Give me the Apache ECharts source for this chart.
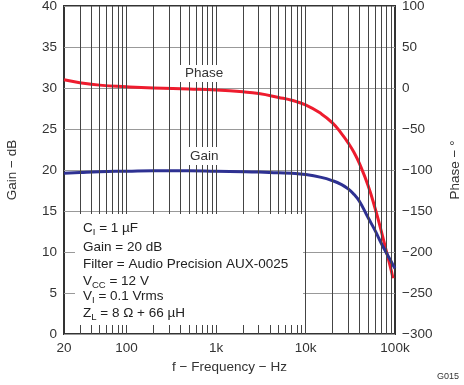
<!DOCTYPE html>
<html><head><meta charset="utf-8">
<script src="https://cdn.jsdelivr.net/npm/echarts@6/dist/echarts.min.js"></script>
<style>html,body{margin:0;padding:0;background:#fff}#c{width:464px;height:385px}</style>
</head><body><div id="c"></div>
<script>
var freq  = [20,30,50,100,200,500,1000,2000,3000,5000,7000,10000,15000,20000,25000,30000,35000,40000,50000,60000,70000,80000,90000,95000,100000];
var gain  = [19.6,19.7,19.8,19.85,19.9,19.9,19.85,19.8,19.75,19.65,19.6,19.45,19.1,18.7,18.25,17.7,17.0,16.2,14.2,12.6,11.1,9.9,8.9,8.4,8.0];
var phase = [10,6.5,3.5,1.5,0,-1.3,-2.5,-4.7,-6.8,-11.5,-15,-20.5,-31.5,-42.5,-55,-67,-79,-92,-119,-147,-174,-199,-221,-232,null];
var gridFreqs = [30,40,50,60,70,80,90,100,200,300,400,500,600,700,800,900,1000,2000,3000,4000,5000,6000,7000,8000,9000,10000,20000,30000,40000,50000,60000,70000,80000,90000];
var gainTicks = {min:0, max:40, interval:5};
var phaseTicks = {min:-300, max:100, interval:50};

var FONT = '"Liberation Sans", Arial, sans-serif';
var TXT = '#333';
var chart = echarts.init(document.getElementById('c'));
function fmtF(v){ return v >= 1000 ? (v/1000) + 'k' : String(v); }
function fmtMinus(v){ return String(v).replace('-', '\u2212'); }
var base = {fontFamily: FONT, fontSize: 13.5, color: '#222', lineHeight: 17};
var sub = {fontFamily: FONT, fontSize: 9.5, color: '#222', lineHeight: 12, padding: [8,0,0,0]};
function line(y, t){
  return {type:'text', left:83, top:y, z:101, style:{text:t, rich:{a:base, s:sub}, font: '13.5px ' + FONT, fill:'#222'}};
}
function pairs(ys){ return freq.map(function(f,i){ return [f, ys[i]]; }).filter(function(p){ return p[1] !== null; }); }
chart.setOption({
  animation: false,
  grid: {left:64, right:69, top:6, bottom:51, containLabel:false, outerBoundsMode:'none', show:true, borderColor:'#333', borderWidth:2, backgroundColor:'transparent'},
  xAxis: {
    type:'log', logBase:10, min:20, max:100000,
    name:'f \u2212 Frequency \u2212 Hz', nameLocation:'middle', nameGap:22,
    nameTextStyle:{fontFamily:FONT, fontSize:13.5, color:TXT},
    axisLine:{show:false}, axisTick:{show:false}, splitLine:{show:false},
    axisLabel:{formatter:fmtF, fontFamily:FONT, fontSize:13.5, color:TXT, margin:7}
  },
  yAxis: [{
    type:'value', min:gainTicks.min, max:gainTicks.max, interval:gainTicks.interval,
    name:'Gain \u2212 dB', nameLocation:'middle', nameRotate:90, nameGap:45,
    nameTextStyle:{fontFamily:FONT, fontSize:13.5, color:TXT},
    axisLine:{show:false}, axisTick:{show:false},
    splitLine:{show:true, lineStyle:{color:'#999', width:1}},
    axisLabel:{fontFamily:FONT, fontSize:13.5, color:TXT, margin:7}
  },{
    type:'value', min:phaseTicks.min, max:phaseTicks.max, interval:phaseTicks.interval, position:'right',
    name:'Phase \u2212 \u00b0', nameLocation:'middle', nameRotate:90, nameGap:53,
    nameTextStyle:{fontFamily:FONT, fontSize:13.5, color:TXT},
    axisLine:{show:false}, axisTick:{show:false}, splitLine:{show:false},
    axisLabel:{formatter:fmtMinus, fontFamily:FONT, fontSize:13.5, color:TXT, margin:7}
  }],
  series: [{
    type:'line', yAxisIndex:0, data:[], silent:true, z:1,
    markLine:{silent:true, symbol:['none','none'], label:{show:false}, animation:false,
      lineStyle:{color:'#444', width:1, type:'solid'},
      data: gridFreqs.map(function(f){return {xAxis:f};})}
  },{
    name:'Phase', type:'line', yAxisIndex:1, smooth:0.5, showSymbol:false, z:3,
    lineStyle:{color:'#ee1c2e', width:3}, itemStyle:{color:'#ee1c2e'},
    data: pairs(phase)
  },{
    name:'Gain', type:'line', yAxisIndex:0, smooth:0.5, showSymbol:false, z:3,
    lineStyle:{color:'#2e3192', width:3}, itemStyle:{color:'#2e3192'},
    data: pairs(gain)
  }],
  graphic: [
    {type:'rect', left:75, top:214, z:100, shape:{width:228, height:111}, style:{fill:'#fff'}},
    {type:'rect', left:178, top:65, z:100, shape:{width:54, height:17}, style:{fill:'#fff'}},
    {type:'rect', left:183, top:147, z:100, shape:{width:42, height:18}, style:{fill:'#fff'}},
    {type:'text', left:185, top:66, z:101, style:{text:'Phase', font:'13.5px ' + FONT, fill:'#333'}},
    {type:'text', left:190, top:149, z:101, style:{text:'Gain', font:'13.5px ' + FONT, fill:'#333'}},
    line(219, '{a|C}{s|I}{a| = 1 \u00b5F}'),
    line(240, '{a|Gain = 20 dB}'),
    line(257, '{a|Filter = Audio Precision AUX-0025}'),
    line(272, '{a|V}{s|CC}{a| = 12 V}'),
    line(287, '{a|V}{s|I}{a| = 0.1 Vrms}'),
    line(304, '{a|Z}{s|L}{a| = 8 \u03a9 + 66 \u00b5H}'),
    {type:'text', right:5, top:372, z:101, style:{text:'G015', font:'9px ' + FONT, fill:'#333'}}
  ]
});
</script></body></html>
